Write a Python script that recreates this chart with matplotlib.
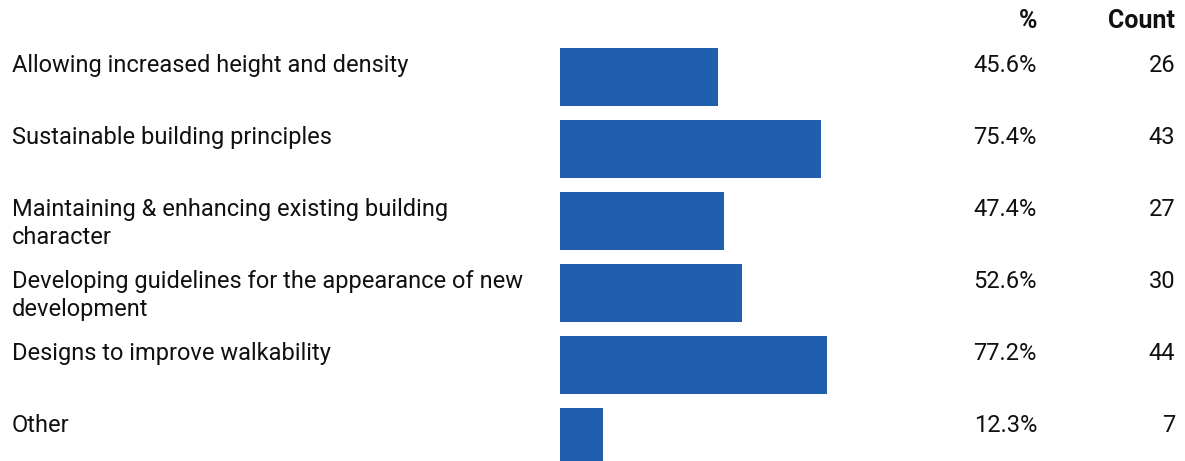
import matplotlib.pyplot as plt
from matplotlib.transforms import blended_transform_factory

labels = [
    'Allowing increased height and density',
    'Sustainable building principles',
    'Maintaining & enhancing existing building\ncharacter',
    'Developing guidelines for the appearance of new\ndevelopment',
    'Designs to improve walkability',
    'Other',
]
percents = [45.6, 75.4, 47.4, 52.6, 77.2, 12.3]
counts = [26, 43, 27, 30, 44, 7]

W, H = 1185, 461
plt.rcParams['font.family'] = ['Roboto', 'DejaVu Sans']

fig = plt.figure(figsize=(W / 100, H / 100), dpi=100)
# bar area spans 560..906.5 px horizontally, rows are 72 px apart
ax = fig.add_axes([560 / W, 1 - 472.8 / H, 346.5 / W, 432 / H])
ax.set_xlim(0, 100)
ax.set_ylim(len(labels) - 0.5, -0.5)
ax.axis('off')

ypos = range(len(labels))
ax.barh(ypos, percents, height=0.8, color='#1f5fad')

fs = 17
tr = blended_transform_factory(fig.transFigure, ax.transData)
for i, (lab, p, c) in enumerate(zip(labels, percents, counts)):
    ax.text(12 / W, i - 0.32, lab, transform=tr, ha='left', va='top',
            fontsize=fs, color='#111111', linespacing=1.3)
    ax.text(1037 / W, i - 0.32, f'{p:.1f}%', transform=tr, ha='right', va='top',
            fontsize=fs, color='#111111')
    ax.text(1175 / W, i - 0.32, str(c), transform=tr, ha='right', va='top',
            fontsize=fs, color='#111111')

fig.text(1037 / W, 1 - 28.5 / H, '%', ha='right', va='baseline',
         fontsize=18, fontweight='bold', color='#111111')
fig.text(1175 / W, 1 - 28.5 / H, 'Count', ha='right', va='baseline',
         fontsize=18, fontweight='bold', color='#111111')

fig.savefig('out.png', dpi=100)
